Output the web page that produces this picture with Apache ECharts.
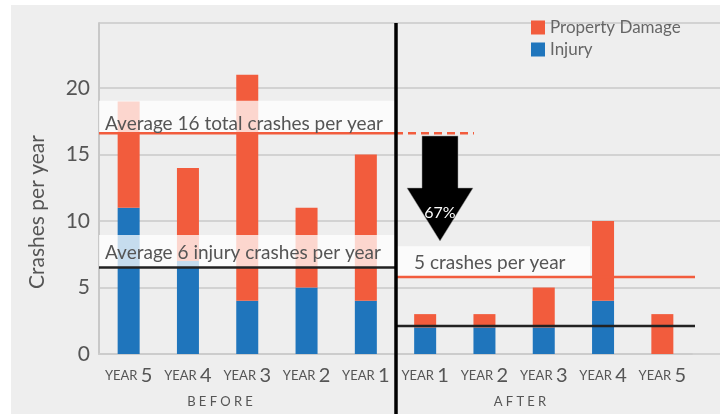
<!DOCTYPE html>
<html><head><meta charset="utf-8">
<script src="https://cdn.jsdelivr.net/npm/echarts@6/dist/echarts.min.js"></script>
<style>html,body{margin:0;padding:0;background:#fff}#c{width:720px;height:414px}</style>
</head><body><div id="c"></div>
<script>
// ---- data ----
const categories = ['YEAR 5','YEAR 4','YEAR 3','YEAR 2','YEAR 1','YEAR 1','YEAR 2','YEAR 3','YEAR 4','YEAR 5'];
const injury   = [11, 7, 4, 5, 4, 2, 2, 2, 4, 0];
const property = [ 8, 7,17, 6,11, 1, 1, 3, 6, 3];
const seriesNames = ['Property Damage', 'Injury'];
const yTicks = [0, 5, 10, 15, 20];
const yAxisTitle = 'Crashes per year';
const periodLabels = ['BEFORE', 'AFTER'];
// reference lines (value positions as drawn)
const beforeTotalLine = 16.6;
const beforeInjuryLine = 6.5;
const afterTotalLine = 5.8;
const afterInjuryLine = 2.1;
// label band tops (values)
const beforeTotalBandTop = 19.05;
const beforeInjuryBandTop = 8.95;
const afterTotalBandTop = 8.1;
const beforeTotalText = 'Average 16 total crashes per year';
const beforeInjuryText = 'Average 6 injury crashes per year';
const afterTotalText = '5 crashes per year';
const reductionText = '67%';

const FONT = 'Lato, "Open Sans", sans-serif';
const ORANGE = '#f25c3d', BLUE = '#1f75bc', TXT = '#555555';

const chart = echarts.init(document.getElementById('c'), null, {renderer: 'canvas'});
const option = {
  backgroundColor: '#eeeeee',
  animation: false,
  textStyle: {fontFamily: FONT},
  legend: {
    data: seriesNames, orient: 'vertical', left: 526, top: 14, padding: 5,
    itemWidth: 14, itemHeight: 14, itemGap: 5, icon: 'rect',
    textStyle: {fontSize: 17, color: '#666', fontFamily: FONT}
  },
  grid: [
    {left: 99, right: 28, top: 23, bottom: 60},
    {left: 99, right: 0, top: 23, bottom: 60}
  ],
  xAxis: [
    {
      type: 'category', data: categories, gridIndex: 0,
      axisLine: {lineStyle: {color: '#cccccc', width: 2}},
      axisTick: {show: false},
      axisLabel: {
        margin: 12, interval: 0,
        formatter: v => { const p = v.split(' '); return '{a|' + p[0] + ' }{b|' + p[1] + '}'; },
        rich: {
          a: {fontSize: 13, color: TXT, fontFamily: FONT},
          b: {fontSize: 20, color: TXT, fontFamily: FONT}
        }
      }
    },
    {type: 'value', gridIndex: 1, show: false, min: 0, max: 1}
  ],
  yAxis: [
    {type: 'value', gridIndex: 0, min: 0, max: 24.9, interval: 5, show: false, splitLine: {show: false}},
    {
      type: 'value', gridIndex: 1, min: 0, max: 24.9, interval: 5,
      axisLine: {show: true, lineStyle: {color: '#c8c8c8', width: 2}},
      axisTick: {show: false},
      axisLabel: {fontSize: 21, color: TXT, margin: 9, fontFamily: FONT,
        formatter: v => yTicks.indexOf(v) >= 0 ? String(v) : ''},
      splitLine: {lineStyle: {color: '#c8c8c8', width: 1.5}}
    }
  ],
  series: [
    {name: 'Injury', type: 'bar', stack: 't', barWidth: 22, xAxisIndex: 0, yAxisIndex: 0,
     itemStyle: {color: BLUE}, data: injury},
    {name: 'Property Damage', type: 'bar', stack: 't', barWidth: 22, xAxisIndex: 0, yAxisIndex: 0,
     itemStyle: {color: ORANGE}, data: property}
  ]
};
chart.setOption(option);

const py = v => chart.convertToPixel({yAxisIndex: 0}, v);
const yBT = py(beforeTotalLine), yBI = py(beforeInjuryLine), yAT = py(afterTotalLine), yAI = py(afterInjuryLine);
const bandStyle = {fill: 'rgba(255,255,255,0.75)'};
const textStyle = (t, x, y, extra) => Object.assign({text: t, x: x, y: y, fill: TXT, fontSize: 19,
  fontFamily: FONT, verticalAlign: 'middle'}, extra || {});

const graphic = [
  {type: 'rect', shape: {x: 0, y: 0, width: 11, height: 414}, style: {fill: '#fff'}, z: 1},
  {type: 'rect', shape: {x: 0, y: 0, width: 720, height: 5}, style: {fill: '#fff'}, z: 1},
  // y axis title
  {type: 'text', x: 37, y: 212, rotation: Math.PI / 2,
   style: {text: yAxisTitle, fill: TXT, fontSize: 21, fontFamily: FONT, align: 'center', verticalAlign: 'middle'}, z: 12},
  // bands
  {type: 'rect', shape: {x: 99, y: py(beforeTotalBandTop), width: 296, height: yBT - py(beforeTotalBandTop)}, style: bandStyle, z: 10},
  {type: 'rect', shape: {x: 99, y: py(beforeInjuryBandTop), width: 296, height: yBI - py(beforeInjuryBandTop)}, style: bandStyle, z: 10},
  {type: 'rect', shape: {x: 397, y: py(afterTotalBandTop), width: 193, height: yAT - py(afterTotalBandTop)}, style: bandStyle, z: 10},
  // texts
  {type: 'text', style: textStyle(beforeTotalText, 105, yBT - 9), z: 12},
  {type: 'text', style: textStyle(beforeInjuryText, 105, yBI - 15), z: 12},
  {type: 'text', style: textStyle(afterTotalText, 414, yAT - 14), z: 12},
  // lines
  {type: 'line', shape: {x1: 99, y1: yBT, x2: 395, y2: yBT}, style: {stroke: ORANGE, lineWidth: 2.5}, z: 11},
  {type: 'line', shape: {x1: 395, y1: yBT, x2: 474, y2: yBT}, style: {stroke: ORANGE, lineWidth: 2.5, lineDash: [8, 5]}, z: 11},
  {type: 'line', shape: {x1: 99, y1: yBI, x2: 395, y2: yBI}, style: {stroke: '#222', lineWidth: 2.5}, z: 11},
  {type: 'line', shape: {x1: 397, y1: yAT, x2: 695, y2: yAT}, style: {stroke: ORANGE, lineWidth: 2.5}, z: 11},
  {type: 'line', shape: {x1: 397, y1: yAI, x2: 695, y2: yAI}, style: {stroke: '#222', lineWidth: 2.5}, z: 11},
  // divider
  {type: 'line', shape: {x1: 396, y1: 23, x2: 396, y2: 414}, style: {stroke: '#000', lineWidth: 3.5}, z: 13},
  // arrow
  {type: 'polygon', shape: {points: [[422,136],[458,136],[458,188],[473,188],[440,241],[407,188],[422,188]]},
   style: {fill: '#000', stroke: '#999', lineWidth: 0.5}, z: 13},
  {type: 'text', style: {text: reductionText, x: 440, y: 213, fill: '#fff', fontSize: 16, fontFamily: FONT,
   align: 'center', verticalAlign: 'middle'}, z: 14},
  // period labels
  {type: 'text', style: {text: periodLabels[0].split('').join('\u2009\u2009'), x: 220, y: 402, fill: TXT, fontSize: 13,
   fontFamily: FONT, align: 'center', verticalAlign: 'middle'}, z: 12},
  {type: 'text', style: {text: periodLabels[1].split('').join('\u2009\u2009'), x: 520, y: 402, fill: TXT, fontSize: 13,
   fontFamily: FONT, align: 'center', verticalAlign: 'middle'}, z: 12}
];
chart.setOption({graphic: graphic});
</script></body></html>
